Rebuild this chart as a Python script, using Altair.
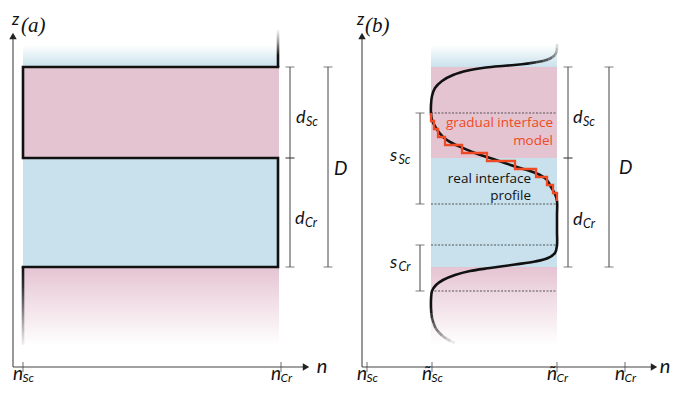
import altair as alt
import pandas as pd

# ---------------- values (diagram coordinates, px) ----------------
A_COL = [23, 279]            # (a) film column: n_Sc .. n_Cr
B_COL = [431, 557]           # (b) film column: ñ_Sc .. ñ_Cr
LAYER_Y = [67, 158, 267]     # top of Sc layer, Sc/Cr interface, bottom of Cr layer
FADE_Y = [45, 345]           # faded surroundings above / below

AXIS_Y = 367
AXIS_TOP = 36
A_AXIS = [13, 306]
B_AXIS = [362, 654]

A_TICK_X = [23, 281]
A_TICK_MAIN = ["n", "n"]
A_TICK_SUB = ["Sc", "Cr"]
B_TICK_X = [367, 432, 557, 625]
B_TICK_MAIN = ["n", "ñ", "ñ", "n"]
B_TICK_SUB = ["Sc", "Sc", "Cr", "Cr"]

# (a) ideal step profile
A_PROF_X = [278, 23, 23, 278, 278, 23]
A_PROF_Y = [67, 67, 158, 158, 267, 267]
A_TOP_STUB_Y = [29, 67]      # at x = 278
A_BOT_STUB_Y = [267, 345]    # at x = 23

# (b) real interface profile
B_TAIL_TOP_X = [557, 557, 556.5, 555, 552, 548, 543, 536, 529, 522]
B_TAIL_TOP_Y = [44, 48, 52, 55, 57.5, 59.5, 61, 62.3, 63.4, 64.3]
B_CURVE_X = [522, 505, 486, 468, 453, 442, 435, 432, 431, 431,
             432, 436, 443, 452, 463, 475, 487, 502, 517, 530, 540, 547, 551, 555, 557,
             557, 557, 557,
             555, 548, 535, 515, 490, 470, 455, 443, 436, 432, 431, 431]
B_CURVE_Y = [64.3, 65.8, 67.5, 70.5, 75, 81, 88, 96, 105, 113,
             120, 128, 137, 143, 148, 153, 157, 162, 167, 171, 175, 180, 187, 194, 201,
             215, 232, 245,
             253, 258, 261.5, 264.5, 268, 271, 275, 280, 285, 291, 300, 308]
B_TAIL_BOT_X = [431, 431.3, 432, 433.5, 435.5, 438.5, 442, 446, 450.5, 455]
B_TAIL_BOT_Y = [308, 313, 318, 323, 328, 332, 335.5, 338.5, 341, 343]

# (b) gradual interface model (staircase)
STEP_X = [431, 434, 438, 445, 462, 487, 515, 536, 547, 553, 557]
STEP_Y = [113, 121, 129, 137, 145, 153, 161, 169, 177, 185, 193, 201]

# (b) dotted guide lines
DOT_Y = [113, 204, 245, 291]

# dimension brackets
BR_X = [290, 290, 328, 568, 568, 609, 420, 420]
BR_Y1 = [67, 158, 67, 67, 158, 67, 113, 245]
BR_Y2 = [158, 267, 267, 158, 267, 267, 204, 291]

# math labels: main letter, subscript, anchor (left, baseline)
ML_MAIN = ["d", "d", "D", "d", "d", "D", "s", "s"]
ML_SUB = ["Sc", "Cr", "", "Sc", "Cr", "", "Sc", "Cr"]
ML_X = [296, 295, 334, 573, 573, 619, 390, 390]
ML_Y = [123, 224, 175, 123, 225, 174, 161, 268]

PINK = "#e5c4d2"
BLUE = "#c9e1ec"
RED = "#ef4a23"
INK = "#111111"
AXC = "#444444"

# ---------------- scales ----------------
xs = alt.Scale(domain=[8, 670], nice=False, zero=False)
ys = alt.Scale(domain=[8, 385], nice=False, zero=False, reverse=True)


def X(f):
    return alt.X(f, type="quantitative", scale=xs, axis=None)


def Y(f):
    return alt.Y(f, type="quantitative", scale=ys, axis=None)


def grad(stops):
    return alt.LinearGradient(
        gradient="linear",
        stops=[alt.GradientStop(offset=o, color=c) for o, c in stops],
        x1=0, x2=0, y1=0, y2=1,
    )


def fading_segments(xv, yv, op_start, op_end):
    n = len(xv) - 1
    rows = []
    for i in range(n):
        t = i / max(n - 1, 1)
        rows.append({"x": xv[i], "y": yv[i], "x2": xv[i + 1], "y2": yv[i + 1],
                     "op": op_start + (op_end - op_start) * t})
    return pd.DataFrame(rows)


layers = []

# solid layer backgrounds
bg = pd.DataFrame({
    "x1": [A_COL[0], A_COL[0], B_COL[0], B_COL[0]],
    "x2": [A_COL[1], A_COL[1], B_COL[1], B_COL[1]],
    "y1": [LAYER_Y[0], LAYER_Y[1]] * 2,
    "y2": [LAYER_Y[1], LAYER_Y[2]] * 2,
    "c": [PINK, BLUE, PINK, BLUE],
})
layers.append(alt.Chart(bg).mark_rect(strokeWidth=0).encode(
    x=X("x1"), x2="x2", y=Y("y1"), y2="y2", color=alt.Color("c:N", scale=None)))

top_fade = pd.DataFrame({"x1": [A_COL[0], B_COL[0]], "x2": [A_COL[1], B_COL[1]],
                         "y1": [FADE_Y[0]] * 2, "y2": [LAYER_Y[0]] * 2})
layers.append(alt.Chart(top_fade).mark_rect(
    fill=grad([(0, "#ffffff"), (1, BLUE)]), strokeWidth=0).encode(
    x=X("x1"), x2="x2", y=Y("y1"), y2="y2"))

bot_fade = pd.DataFrame({"x1": [A_COL[0], B_COL[0]], "x2": [A_COL[1], B_COL[1]],
                         "y1": [LAYER_Y[2]] * 2, "y2": [FADE_Y[1]] * 2})
layers.append(alt.Chart(bot_fade).mark_rect(
    fill=grad([(0, PINK), (1, "#ffffff")]), strokeWidth=0).encode(
    x=X("x1"), x2="x2", y=Y("y1"), y2="y2"))

# dotted guides
dots = pd.DataFrame({"y": DOT_Y, "x1": [B_COL[0]] * len(DOT_Y), "x2": [B_COL[1]] * len(DOT_Y)})
layers.append(alt.Chart(dots).mark_rule(color="#333333", strokeWidth=0.8, strokeDash=[2, 1.5]).encode(
    x=X("x1"), x2="x2", y=Y("y")))

# brackets
br = pd.DataFrame({"x": BR_X, "y1": BR_Y1, "y2": BR_Y2})
layers.append(alt.Chart(br).mark_rule(color=AXC, strokeWidth=1).encode(x=X("x"), y=Y("y1"), y2="y2"))
caps = pd.DataFrame({"x": BR_X * 2, "y": BR_Y1 + BR_Y2})
layers.append(alt.Chart(caps).mark_tick(color=AXC, thickness=1, size=9, orient="horizontal").encode(
    x=X("x"), y=Y("y")))

# axes
ax_h = pd.DataFrame({"x1": [A_AXIS[0], B_AXIS[0]], "x2": [A_AXIS[1], B_AXIS[1]], "y": [AXIS_Y] * 2})
layers.append(alt.Chart(ax_h).mark_rule(color=AXC, strokeWidth=1.1).encode(x=X("x1"), x2="x2", y=Y("y")))
ax_v = pd.DataFrame({"x": [A_AXIS[0], B_AXIS[0]], "y1": [AXIS_Y] * 2, "y2": [AXIS_TOP] * 2})
layers.append(alt.Chart(ax_v).mark_rule(color=AXC, strokeWidth=1.1).encode(x=X("x"), y=Y("y1"), y2="y2"))
ticks = pd.DataFrame({"x": A_TICK_X + B_TICK_X, "y": [AXIS_Y] * (len(A_TICK_X) + len(B_TICK_X))})
layers.append(alt.Chart(ticks).mark_tick(color=AXC, thickness=1.1, size=10, orient="vertical").encode(
    x=X("x"), y=Y("y")))
arr_up = pd.DataFrame({"x": [A_AXIS[0], B_AXIS[0]], "y": [AXIS_TOP] * 2})
layers.append(alt.Chart(arr_up).mark_point(shape="triangle-up", filled=True, size=55, color="#222222",
                                           opacity=1).encode(x=X("x"), y=Y("y")))
arr_r = pd.DataFrame({"x": [A_AXIS[1], B_AXIS[1]], "y": [AXIS_Y] * 2})
layers.append(alt.Chart(arr_r).mark_point(shape="triangle-right", filled=True, size=55, color="#222222",
                                          opacity=1).encode(x=X("x"), y=Y("y")))

# (a) step profile
prof = pd.DataFrame({"x": A_PROF_X, "y": A_PROF_Y, "o": list(range(len(A_PROF_X)))})
layers.append(alt.Chart(prof).mark_line(color=INK, strokeWidth=2.6, strokeJoin="miter", strokeCap="square").encode(
    x=X("x"), y=Y("y"), order="o:Q"))
stub_top = pd.DataFrame({"x1": [A_PROF_X[0] - 1.3], "x2": [A_PROF_X[0] + 1.3],
                         "y1": [A_TOP_STUB_Y[0]], "y2": [A_TOP_STUB_Y[1]]})
layers.append(alt.Chart(stub_top).mark_rect(
    fill=grad([(0, "#ffffff"), (0.35, "#9a9a9a"), (0.7, INK), (1, INK)]), strokeWidth=0).encode(
    x=X("x1"), x2="x2", y=Y("y1"), y2="y2"))
stub_bot = pd.DataFrame({"x1": [A_PROF_X[-1] - 1.3], "x2": [A_PROF_X[-1] + 1.3],
                         "y1": [A_BOT_STUB_Y[0]], "y2": [A_BOT_STUB_Y[1]]})
layers.append(alt.Chart(stub_bot).mark_rect(
    fill=grad([(0, INK), (0.25, "#333333"), (0.6, "#8a8a8a"), (1, "#f2f2f2")]), strokeWidth=0).encode(
    x=X("x1"), x2="x2", y=Y("y1"), y2="y2"))

# (b) real interface profile
curve = pd.DataFrame({"x": B_CURVE_X, "y": B_CURVE_Y, "o": list(range(len(B_CURVE_X)))})
layers.append(alt.Chart(curve).mark_line(color=INK, strokeWidth=2.6, interpolate="catmull-rom").encode(
    x=X("x"), y=Y("y"), order="o:Q"))
tail_t = fading_segments(B_TAIL_TOP_X[::-1], B_TAIL_TOP_Y[::-1], 1.0, 0.15)
layers.append(alt.Chart(tail_t).mark_rule(color=INK, strokeWidth=2.6, strokeCap="butt").encode(
    x=X("x"), y=Y("y"), x2="x2", y2="y2", opacity=alt.Opacity("op:Q", scale=None)))
tail_b = fading_segments(B_TAIL_BOT_X, B_TAIL_BOT_Y, 0.95, 0.08)
layers.append(alt.Chart(tail_b).mark_rule(color=INK, strokeWidth=2.6, strokeCap="butt").encode(
    x=X("x"), y=Y("y"), x2="x2", y2="y2", opacity=alt.Opacity("op:Q", scale=None)))

# (b) staircase
sx, sy = [], []
for i, xv in enumerate(STEP_X):
    sx += [xv, xv]
    sy += [STEP_Y[i], STEP_Y[i + 1]]
stairs = pd.DataFrame({"x": sx, "y": sy, "o": list(range(len(sx)))})
layers.append(alt.Chart(stairs).mark_line(color=RED, strokeWidth=2.3, strokeJoin="miter").encode(
    x=X("x"), y=Y("y"), order="o:Q"))

# ---------------- text ----------------
MFONT = "Lato"
main = pd.DataFrame({"t": ML_MAIN, "x": ML_X, "y": ML_Y,
                     "s": [18 if m != "D" else 19 for m in ML_MAIN]})
layers.append(alt.Chart(main).mark_text(font=MFONT, fontStyle="italic", align="left",
                                        baseline="alphabetic", color=INK).encode(
    x=X("x"), y=Y("y"), text="t:N", size=alt.Size("s:Q", scale=None)))
sub_x = [x + (10 if m == "d" else 8.5) for x, m in zip(ML_X, ML_MAIN)]
sub = pd.DataFrame({"t": ML_SUB, "x": sub_x, "y": [y + 3 for y in ML_Y]})
sub = sub[sub["t"] != ""]
layers.append(alt.Chart(sub).mark_text(font=MFONT, fontStyle="italic", align="left", fontSize=12.5,
                                       baseline="alphabetic", color=INK).encode(
    x=X("x"), y=Y("y"), text="t:N"))

tick_x = A_TICK_X + B_TICK_X
tmain = pd.DataFrame({"t": A_TICK_MAIN + B_TICK_MAIN, "x": [t - 10 for t in tick_x],
                      "y": [379.5] * len(tick_x)})
layers.append(alt.Chart(tmain).mark_text(font=MFONT, fontStyle="italic", align="left", fontSize=19,
                                         baseline="alphabetic", color=INK).encode(
    x=X("x"), y=Y("y"), text="t:N"))
tsub = pd.DataFrame({"t": A_TICK_SUB + B_TICK_SUB, "x": [t - 0.5 for t in tick_x],
                     "y": [382] * len(tick_x)})
layers.append(alt.Chart(tsub).mark_text(font=MFONT, fontStyle="italic", align="left", fontSize=12,
                                        baseline="alphabetic", color=INK).encode(
    x=X("x"), y=Y("y"), text="t:N"))

axn = pd.DataFrame({"t": ["n", "n", "z", "z"], "x": [322, 665, 15.5, 360.5], "y": [373, 373, 25, 25],
                    "s": [20, 20, 17, 17]})
layers.append(alt.Chart(axn).mark_text(font=MFONT, fontStyle="italic", align="center",
                                       baseline="alphabetic", color=INK).encode(
    x=X("x"), y=Y("y"), text="t:N", size=alt.Size("s:Q", scale=None)))

plab = pd.DataFrame({"t": ["(a)", "(b)"], "x": [21, 365], "y": [32, 32]})
layers.append(alt.Chart(plab).mark_text(font="Liberation Serif", fontStyle="italic", fontSize=21,
                                        align="left", baseline="alphabetic", color=INK).encode(
    x=X("x"), y=Y("y"), text="t:N"))

ann_r = pd.DataFrame({"t": ["gradual interface", "model"], "x": [553, 553], "y": [127, 145]})
layers.append(alt.Chart(ann_r).mark_text(font="Open Sans", fontSize=13.5, align="right",
                                         baseline="alphabetic", color=RED).encode(
    x=X("x"), y=Y("y"), text="t:N"))
ann_k = pd.DataFrame({"t": ["real interface", "profile"], "x": [531, 531], "y": [182.5, 200]})
layers.append(alt.Chart(ann_k).mark_text(font="Open Sans", fontSize=13.5, align="right",
                                         baseline="alphabetic", color=INK).encode(
    x=X("x"), y=Y("y"), text="t:N"))

chart = alt.layer(*layers).properties(
    width=662, height=377, padding=0, autosize=alt.AutoSizeParams(type="none")
).configure_view(stroke=None)

chart.save("out.html", embed_options={"renderer": "svg", "actions": False})
